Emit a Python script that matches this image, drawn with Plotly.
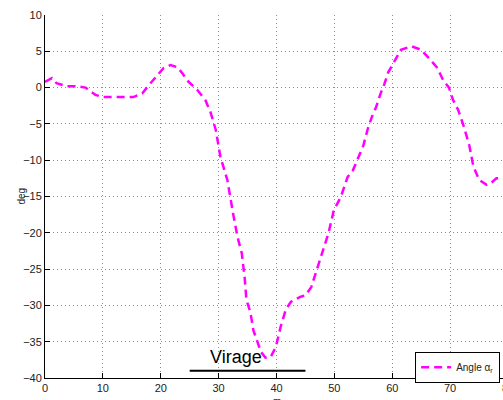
import plotly.graph_objects as go

distance_m = [0, 1.2, 2, 3.8, 5.5, 7, 8.7, 10, 15.3, 16.8, 17.9, 19.4, 20.5, 21.7, 22.9, 23.7, 24.8,
              26.3, 27.7, 28.6, 29.5, 30.3, 31.5, 32.6, 33.3, 34, 34.5, 34.8, 35.5, 36, 37.3, 38.1,
              39, 39.9, 40.7, 41.6, 42.5, 44.2, 45, 46, 47.7, 49, 49.9, 51.1, 52.3, 53.2, 55, 55.8,
              56.5, 57.2, 57.9, 58.6, 59.3, 60.3, 61.5, 63.3, 65, 66.4, 67.8, 68.8, 69.8, 70.5,
              71.4, 72.3, 73.3, 74, 75, 76.3, 77, 78, 79, 80]
angle_deg = [0.8, 1.3, 0.6, 0.2, 0.2, 0, -1, -1.3, -1.3, -0.8, 0.3, 1.7, 2.7, 3.1, 2.8, 2, 0.8,
             -0.3, -1.7, -3.4, -5.8, -9.5, -12.7, -17.8, -20.7, -22.8, -26.2, -29.2, -31, -33.4,
             -36.4, -37.2, -37.1, -35.7, -33, -30.6, -29.5, -28.8, -28.6, -27.5, -23.3, -20,
             -16.9, -15.1, -12.3, -11.4, -8, -5.6, -4, -2.7, -1, 0.4, 2.1, 3.5, 5.2, 5.7, 5.2,
             4, 2.7, 1, 0, -1.7, -3.1, -5.2, -7.9, -10.8, -12.7, -13.4, -13.2, -12.5, -12.5, -12.5]

virage_x = [25, 45]
virage_y = [-39, -39]
virage_label = "Virage"
virage_label_pos = (33, -37.1)

x_ticks = [0, 10, 20, 30, 40, 50, 60, 70, 80]
y_ticks = [10, 5, 0, -5, -10, -15, -20, -25, -30, -35, -40]

font_family = "Liberation Sans, Arial, sans-serif"

fig = go.Figure()
fig.add_trace(go.Scatter(
    x=distance_m, y=angle_deg, mode="lines", name="Angle α<sub>r</sub>",
    line=dict(color="#FF00FF", width=2.5, dash="8px,5px"),
))
fig.add_trace(go.Scatter(
    x=virage_x, y=virage_y, mode="lines", showlegend=False,
    line=dict(color="black", width=2),
))
fig.add_annotation(x=virage_label_pos[0], y=virage_label_pos[1], text=virage_label,
                   showarrow=False, font=dict(size=18, color="black", family=font_family),
                   xanchor="center", yanchor="middle")
fig.add_annotation(x=-0.068, y=0.5, xref="paper", yref="paper", text="deg", textangle=-90,
                   showarrow=False, font=dict(size=10, color="#222", family=font_family))
fig.add_annotation(x=0.5, y=-0.045, xref="paper", yref="paper", text="m", yanchor="top",
                   showarrow=False, font=dict(size=10, color="#222", family=font_family))

axis_common = dict(
    showline=True, linecolor="black", linewidth=1, mirror=False,
    ticks="inside", ticklen=5, tickcolor="black", automargin=False,
    ticklabeloverflow="allow",
    showgrid=True, gridcolor="#8c8c8c", gridwidth=1, griddash="1px,3px",
    zeroline=False, tickfont=dict(size=11, color="#222", family=font_family),
)
fig.update_xaxes(range=[0, 80], tickvals=x_ticks, **axis_common)
fig.update_yaxes(range=[-40, 10], tickvals=y_ticks, **axis_common)

fig.update_layout(
    width=508, height=400,
    margin=dict(l=45, r=0, t=15, b=22, autoexpand=False),
    paper_bgcolor="white", plot_bgcolor="white",
    font=dict(family=font_family),
    legend=dict(x=0.983, y=0.072, xanchor="right", yanchor="top",
                bordercolor="black", borderwidth=1, bgcolor="white",
                font=dict(size=10, color="#222", family=font_family),
                itemwidth=30, tracegroupgap=0),
)

fig.write_html("out.html",
               config={"displayModeBar": False},
               post_script="document.body.style.margin='0';document.body.style.overflow='hidden';")
